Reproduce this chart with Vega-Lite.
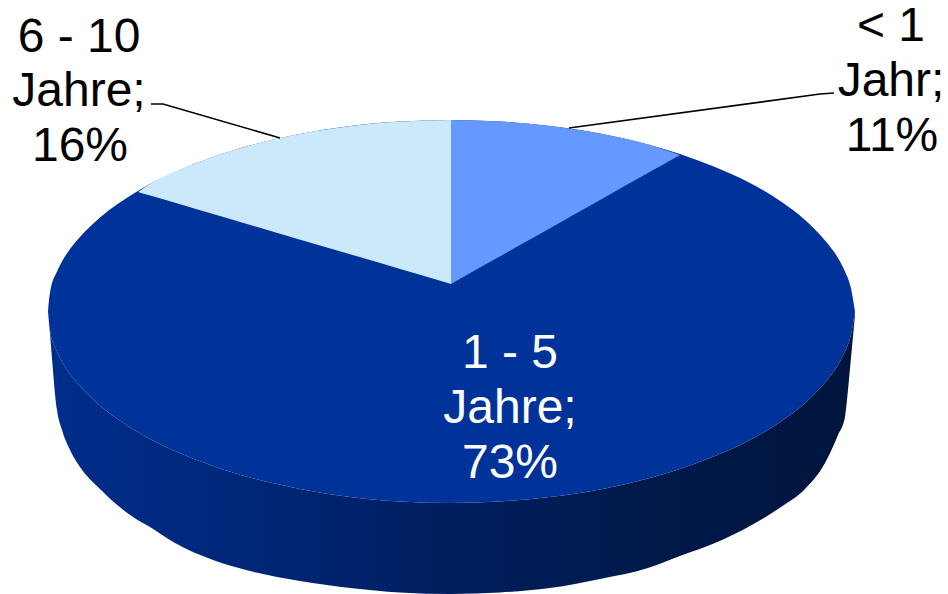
{
"$schema":"https://vega.github.io/schema/vega-lite/v6.json",
"width":948,"height":594,"padding":0,"autosize":{"type":"none"},"background":"white",
"view":{"stroke":null},
"datasets":{
"side":[
{"x":48,"y":311.5,"y2":312},{"x":50,"y":330.5,"y2":334},{"x":57,"y":351.5,"y2":410},{"x":62,"y":361.5,"y2":430},{"x":70,"y":374,"y2":450},{"x":80,"y":386,"y2":467},{"x":100,"y":405.5,"y2":489},{"x":133,"y":429,"y2":517},{"x":150,"y":439,"y2":527},{"x":175,"y":451,"y2":543},{"x":213,"y":466,"y2":560},{"x":250,"y":477.5,"y2":571},{"x":300,"y":489,"y2":581},{"x":350,"y":497,"y2":588},{"x":400,"y":501.5,"y2":592.5},{"x":451,"y":503,"y2":594},{"x":500,"y":501.5,"y2":592.5},{"x":550,"y":497,"y2":588},{"x":600,"y":489.5,"y2":579},{"x":648,"y":478.5,"y2":568},{"x":680,"y":469,"y2":556},{"x":715,"y":456,"y2":543},{"x":750,"y":440,"y2":526},{"x":781,"y":421.5,"y2":507},{"x":805,"y":403,"y2":489},{"x":825,"y":382.5,"y2":463},{"x":838,"y":365,"y2":435},{"x":845,"y":351.5,"y2":417},{"x":847,"y":347,"y2":400},{"x":851,"y":334.5,"y2":358},{"x":855,"y":311.5,"y2":315}
],
"slices":[
{"part":"1 - 5 Jahre","x":48,"y":311.5,"y2":311.5},{"part":"1 - 5 Jahre","x":50,"y":292.5,"y2":330.5},{"part":"1 - 5 Jahre","x":57,"y":271.5,"y2":351.5},{"part":"1 - 5 Jahre","x":62,"y":261.5,"y2":361.5},{"part":"1 - 5 Jahre","x":70,"y":249,"y2":374},{"part":"1 - 5 Jahre","x":80,"y":237,"y2":386},{"part":"1 - 5 Jahre","x":100,"y":217.5,"y2":405.5},{"part":"1 - 5 Jahre","x":133,"y":194,"y2":429},{"part":"1 - 5 Jahre","x":150,"y":184,"y2":439},{"part":"1 - 5 Jahre","x":175,"y":172,"y2":451},{"part":"1 - 5 Jahre","x":213,"y":157,"y2":466},{"part":"1 - 5 Jahre","x":250,"y":145.5,"y2":477.5},{"part":"1 - 5 Jahre","x":300,"y":134,"y2":489},{"part":"1 - 5 Jahre","x":350,"y":126,"y2":497},{"part":"1 - 5 Jahre","x":400,"y":121.5,"y2":501.5},{"part":"1 - 5 Jahre","x":451,"y":120,"y2":503},{"part":"1 - 5 Jahre","x":500,"y":121.5,"y2":501.5},{"part":"1 - 5 Jahre","x":550,"y":126,"y2":497},{"part":"1 - 5 Jahre","x":600,"y":133.5,"y2":489.5},{"part":"1 - 5 Jahre","x":648,"y":144.5,"y2":478.5},{"part":"1 - 5 Jahre","x":680,"y":154,"y2":469},{"part":"1 - 5 Jahre","x":715,"y":167,"y2":456},{"part":"1 - 5 Jahre","x":750,"y":183,"y2":440},{"part":"1 - 5 Jahre","x":781,"y":201.5,"y2":421.5},{"part":"1 - 5 Jahre","x":805,"y":220,"y2":403},{"part":"1 - 5 Jahre","x":825,"y":240.5,"y2":382.5},{"part":"1 - 5 Jahre","x":838,"y":258,"y2":365},{"part":"1 - 5 Jahre","x":845,"y":271.5,"y2":351.5},{"part":"1 - 5 Jahre","x":847,"y":276,"y2":347},{"part":"1 - 5 Jahre","x":851,"y":288.5,"y2":334.5},{"part":"1 - 5 Jahre","x":855,"y":311.5,"y2":311.5},
{"part":"< 1 Jahr","x":451,"y":120,"y2":284},{"part":"< 1 Jahr","x":501,"y":121.5,"y2":255.8},{"part":"< 1 Jahr","x":551,"y":126,"y2":227.7},{"part":"< 1 Jahr","x":601,"y":133.8,"y2":199.5},{"part":"< 1 Jahr","x":651,"y":145.2,"y2":171.3},{"part":"< 1 Jahr","x":680,"y":155,"y2":155},
{"part":"6 - 10 Jahre","x":138,"y":192,"y2":192},{"part":"6 - 10 Jahre","x":151,"y":183.6,"y2":195.8},{"part":"6 - 10 Jahre","x":201,"y":161.3,"y2":210.5},{"part":"6 - 10 Jahre","x":251,"y":145.2,"y2":225.2},{"part":"6 - 10 Jahre","x":301,"y":133.8,"y2":239.9},{"part":"6 - 10 Jahre","x":351,"y":126,"y2":254.6},{"part":"6 - 10 Jahre","x":401,"y":121.5,"y2":269.3},{"part":"6 - 10 Jahre","x":451,"y":120,"y2":284}
],
"leaders":[
{"part":"6 - 10 Jahre","x":151,"y":104},{"part":"6 - 10 Jahre","x":163,"y":104},{"part":"6 - 10 Jahre","x":280,"y":138},
{"part":"< 1 Jahr","x":569,"y":128},{"part":"< 1 Jahr","x":820,"y":94},{"part":"< 1 Jahr","x":834,"y":93}
],
"labels":[
{"part":"6 - 10 Jahre","text":"6 - 10","x":79,"y":52},{"part":"6 - 10 Jahre","text":"Jahre;","x":79,"y":106},{"part":"6 - 10 Jahre","text":"16%","x":80,"y":161},
{"part":"< 1 Jahr","text":"< 1","x":891,"y":41},{"part":"< 1 Jahr","text":"Jahr;","x":891,"y":96},{"part":"< 1 Jahr","text":"11%","x":892,"y":151},
{"part":"1 - 5 Jahre","text":"1 - 5","x":510,"y":368},{"part":"1 - 5 Jahre","text":"Jahre;","x":510,"y":423},{"part":"1 - 5 Jahre","text":"73%","x":510,"y":478}
]
},
"encoding":{
"x":{"field":"x","type":"quantitative","scale":{"domain":[0,948],"nice":false,"zero":false},"axis":null},
"y":{"field":"y","type":"quantitative","scale":{"domain":[594,0],"nice":false,"zero":false},"axis":null}
},
"layer":[
{"data":{"name":"side"},
"mark":{"type":"area","interpolate":"monotone","color":{"gradient":"linear","x1":0,"y1":0,"x2":1,"y2":0,"stops":[{"offset":0,"color":"#002d8c"},{"offset":0.25,"color":"#002678"},{"offset":0.5,"color":"#001f5e"},{"offset":0.75,"color":"#00194a"},{"offset":1,"color":"#00153c"}]}},
"encoding":{"y2":{"field":"y2"}}},
{"data":{"name":"slices"},
"mark":{"type":"area","interpolate":"monotone"},
"encoding":{"y2":{"field":"y2"},
"color":{"field":"part","type":"nominal","legend":null,"scale":{"domain":["1 - 5 Jahre","< 1 Jahr","6 - 10 Jahre"],"range":["#003399","#6699ff","#cce8fb"]}}}},
{"data":{"name":"leaders"},
"mark":{"type":"line","color":"#000000","strokeWidth":1.6},
"encoding":{"detail":{"field":"part"},"order":{"field":"x","type":"quantitative"}}},
{"data":{"name":"labels"},
"mark":{"type":"text","font":"Liberation Sans","fontSize":48,"align":"center","baseline":"alphabetic"},
"encoding":{"text":{"field":"text"},
"color":{"field":"part","type":"nominal","legend":null,"scale":{"domain":["1 - 5 Jahre","< 1 Jahr","6 - 10 Jahre"],"range":["#ffffff","#000000","#000000"]}}}}
],
"resolve":{"scale":{"color":"independent"}}
}
